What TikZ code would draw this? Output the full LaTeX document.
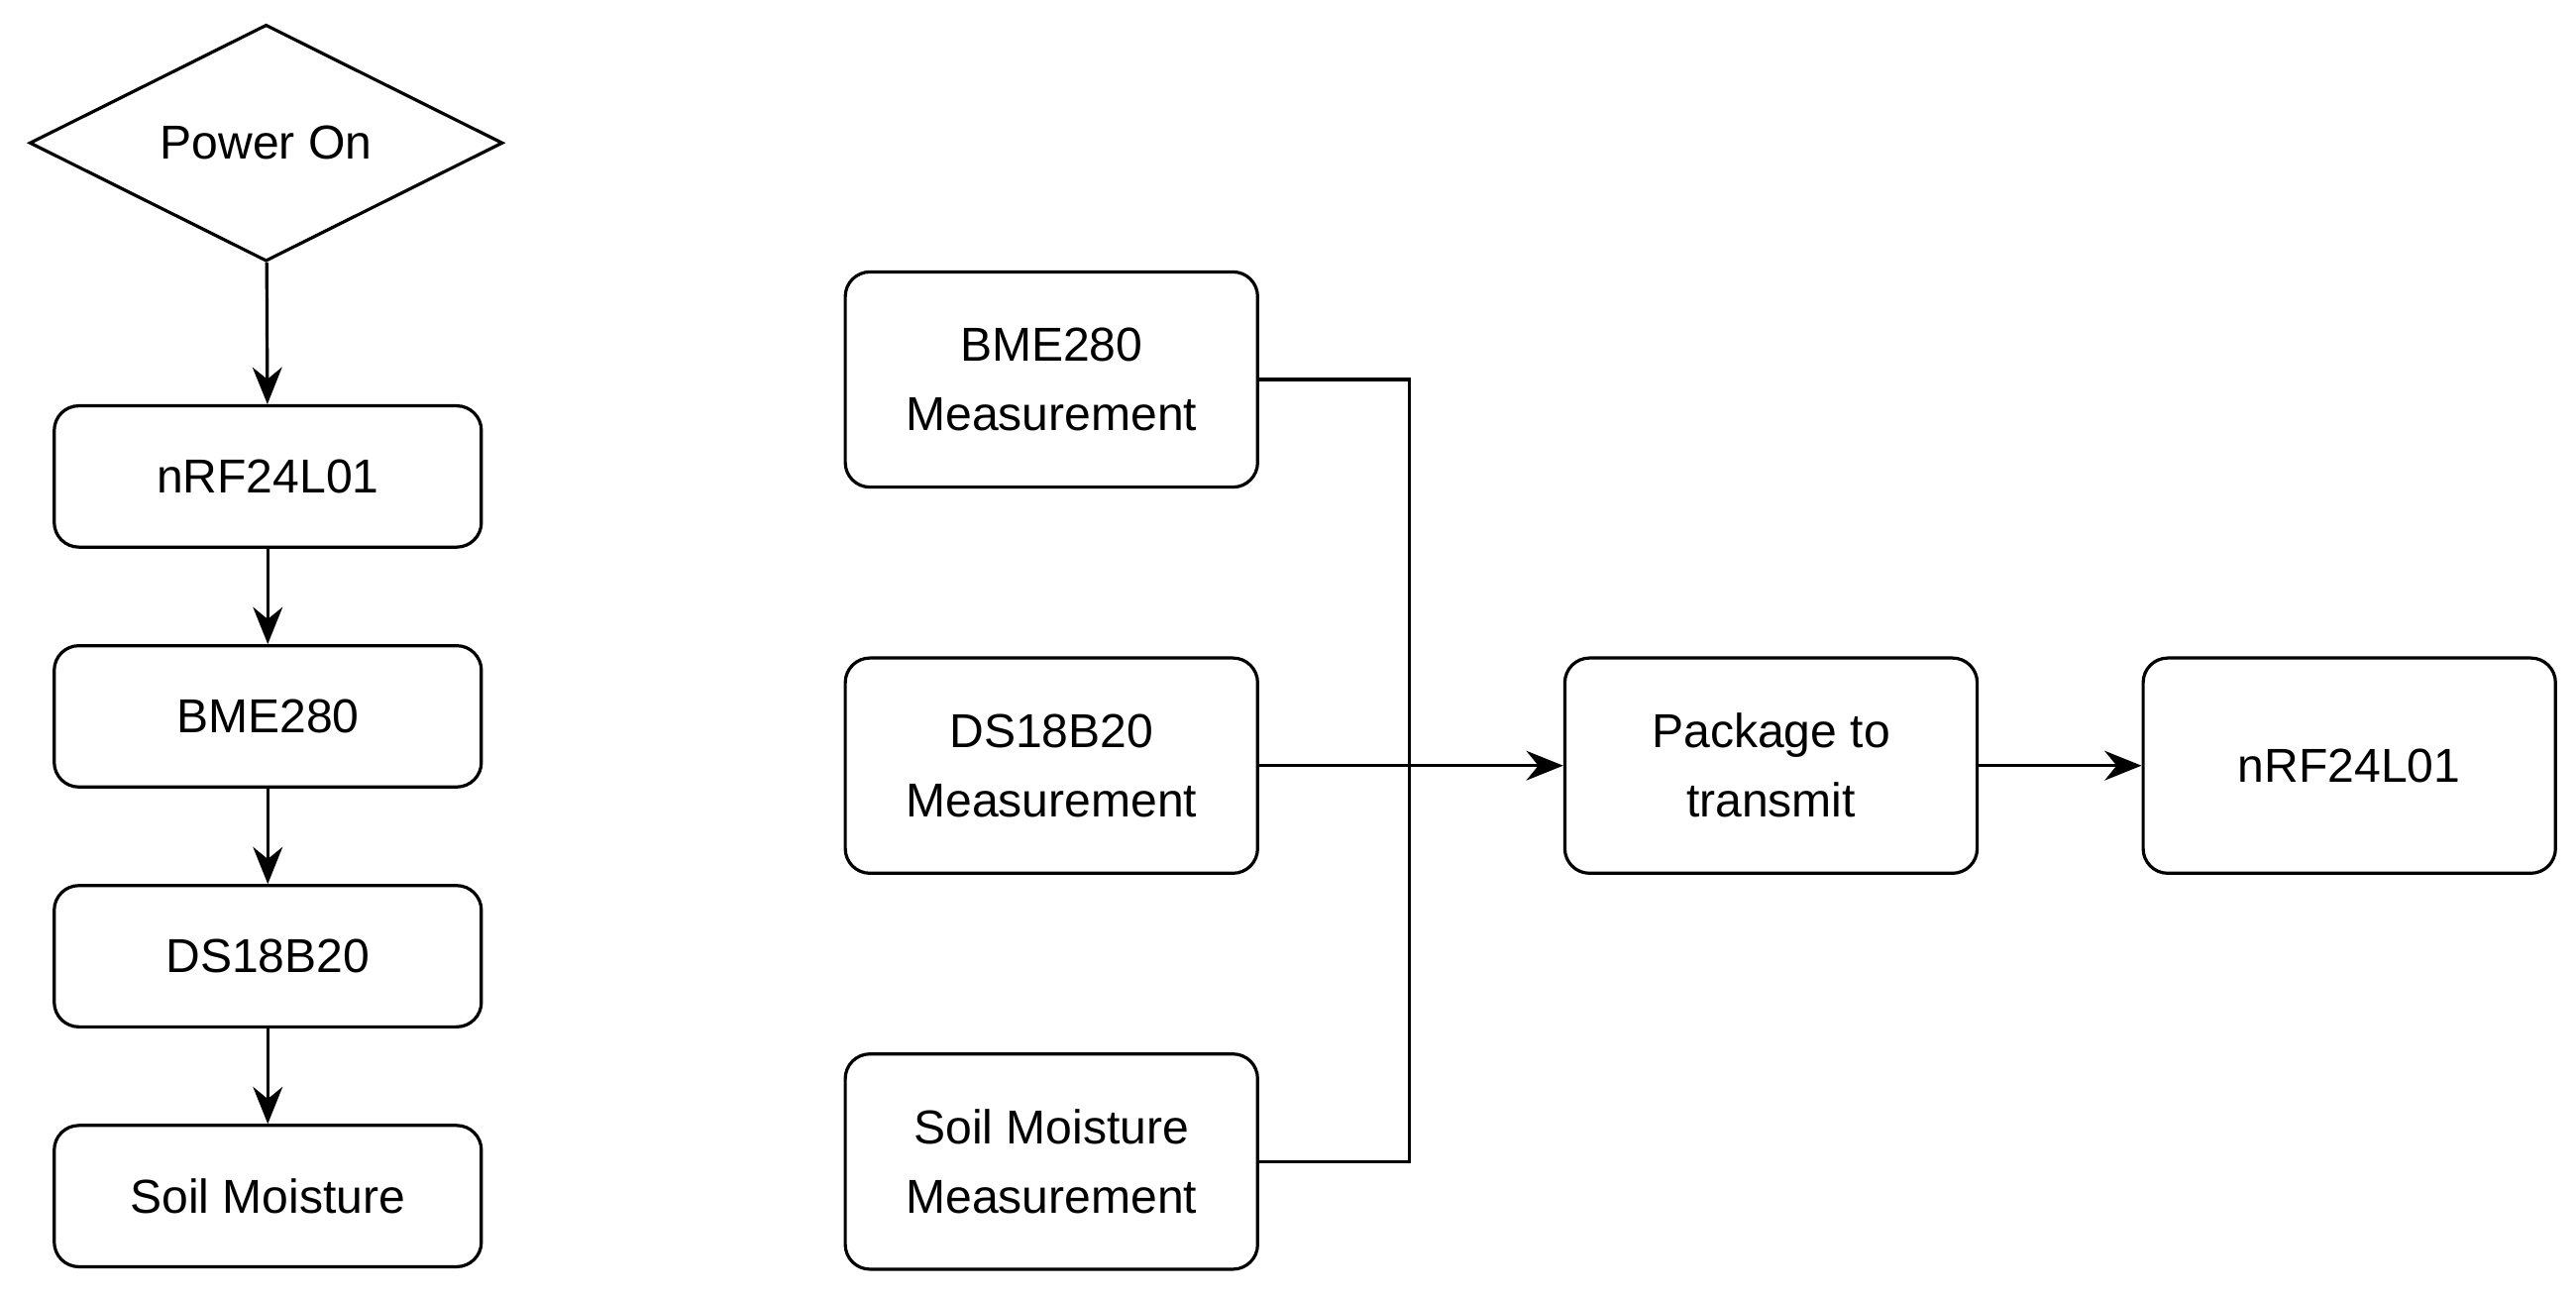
\documentclass[tikz,border=0pt]{standalone}
\usepackage{fontspec}
\setmainfont{Liberation Sans}
\usetikzlibrary{shapes.geometric,arrows.meta}
\tikzset{
  box/.style={draw, rounded corners=0.3cm, line width=1.1pt, align=center,
    minimum width=5.2cm, minimum height=1.72cm, inner sep=0pt},
  wbox/.style={box, minimum width=5.02cm, minimum height=2.62cm},
  flow/.style={line width=1.1pt, -{Stealth[length=0.45cm,width=0.36cm]}},
  link/.style={line width=1.1pt}
}

\begin{document}
\begin{tikzpicture}[font=\fontsize{16.5}{24}\selectfont]
  \useasboundingbox (0,0) rectangle (31.36,-15.8);

  % start-up sequence
  \node[draw, diamond, aspect=2, line width=1.1pt, minimum width=5.76cm,
    minimum height=2.88cm, inner sep=0pt] (power) at (3.24,-1.74) {Power On};
  \node[box] (radio) at (3.26,-5.8) {nRF24L01};
  \node[box] (bme) at (3.26,-8.72) {BME280};
  \node[box] (ds) at (3.26,-11.64) {DS18B20};
  \node[box] (soil) at (3.26,-14.56) {Soil Moisture};

  \draw[flow] (power) -- (radio);
  \draw[flow] (radio) -- (bme);
  \draw[flow] (bme) -- (ds);
  \draw[flow] (ds) -- (soil);

  % measurement loop
  \node[wbox] (mbme) at (12.8,-4.62) {BME280\\Measurement};
  \node[wbox] (mds) at (12.8,-9.32) {DS18B20\\Measurement};
  \node[wbox] (msoil) at (12.8,-14.14) {Soil Moisture\\Measurement};
  \node[wbox] (pack) at (21.56,-9.32) {Package to\\transmit};
  \node[wbox] (send) at (28.6,-9.32) {nRF24L01};

  \coordinate (j) at (17.16,-9.32);
  \draw[link] (mbme.east) -| (j);
  \draw[link] (msoil.east) -| (j);
  \draw[flow] (mds) -- (pack);
  \draw[flow] (pack) -- (send);
\end{tikzpicture}
\end{document}
